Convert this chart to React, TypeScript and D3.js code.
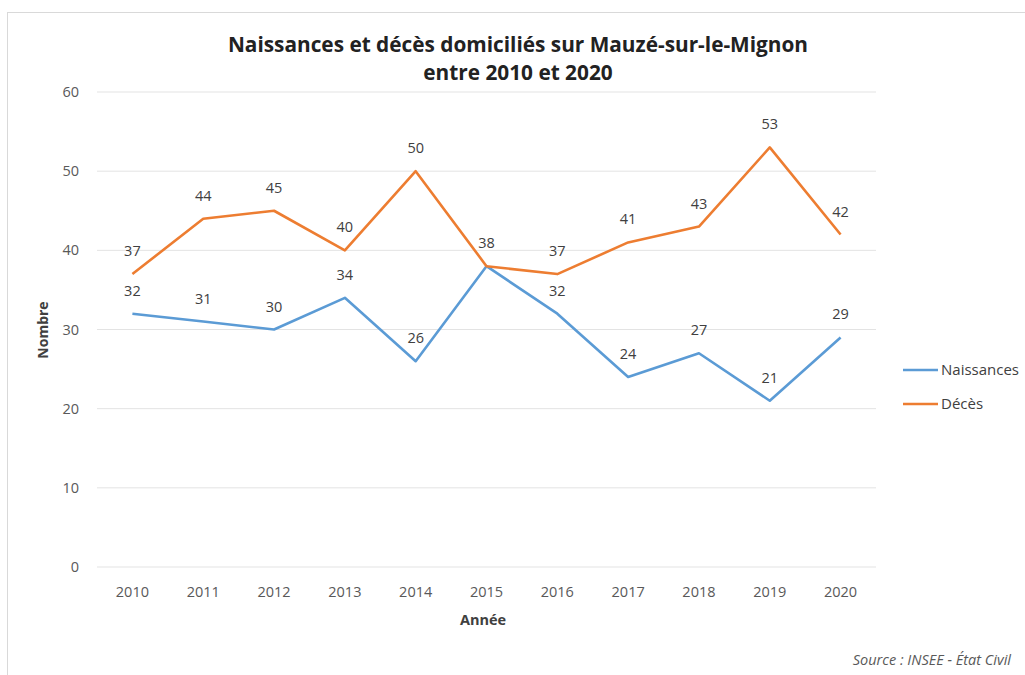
import React from "react";
import * as d3 from "d3";

const years = ["2010","2011","2012","2013","2014","2015","2016","2017","2018","2019","2020"];
const naissances = [32, 31, 30, 34, 26, 38, 32, 24, 27, 21, 29];
const deces = [37, 44, 45, 40, 50, 38, 37, 41, 43, 53, 42];
const yTicks = [0, 10, 20, 30, 40, 50, 60];
const seriesNames = ["Naissances", "Décès"];
const colors = ["#5B9BD5", "#ED7D31"];

const W = 1025, H = 675;
const font = "'Open Sans', 'DejaVu Sans', sans-serif";

export default function App() {
  const x = d3.scaleBand().domain(years).range([97, 876]);
  const y = d3.scaleLinear().domain([0, 60]).range([567, 92]);
  const cx = (yr: string) => (x(yr) as number) + x.bandwidth() / 2;
  const line = d3.line<number>().x((_, i) => cx(years[i])).y((d) => y(d));
  const series = [naissances, deces];
  return (
    <svg width={W} height={H} style={{ position: "absolute", left: 0, top: 0, background: "#fff" }} fontFamily={font}>
      <rect x={7.5} y={12.5} width={1030} height={680} fill="#fff" stroke="#d9d9d9" />
      <text x={518} y={52} textAnchor="middle" fontSize={20.8} fontWeight="bold" fill="#222">Naissances et décès domiciliés sur Mauzé-sur-le-Mignon</text>
      <text x={518} y={80} textAnchor="middle" fontSize={20.8} fontWeight="bold" fill="#222">entre 2010 et 2020</text>
      {yTicks.map((t) => (
        <g key={t}>
          <line x1={97} x2={876} y1={y(t)} y2={y(t)} stroke="#e3e3e3" strokeWidth={1} />
          <text x={79} y={y(t)} dy="0.35em" textAnchor="end" fontSize={14.5} fill="#595959">{t}</text>
        </g>
      ))}
      {years.map((yr) => (
        <text key={yr} x={cx(yr)} y={597} textAnchor="middle" fontSize={14.5} fill="#595959">{yr}</text>
      ))}
      <text x={483} y={625} textAnchor="middle" fontSize={14.5} fontWeight="bold" fill="#404040">Année</text>
      <text transform="translate(48,330) rotate(-90)" textAnchor="middle" fontSize={14} fontWeight="bold" fill="#404040">Nombre</text>
      {series.map((s, si) => (
        <path key={si} d={line(s) as string} fill="none" stroke={colors[si]} strokeWidth={2.6} strokeLinejoin="round" />
      ))}
      {series.map((s, si) =>
        s.map((v, i) =>
          si === 0 && v === deces[i] ? null : (
            <text key={si + "-" + i} x={cx(years[i])} y={y(v) - 18} textAnchor="middle" fontSize={14.5} fill="#404040">{v}</text>
          )
        )
      )}
      {seriesNames.map((n, i) => (
        <g key={n}>
          <line x1={903} x2={938} y1={370 + i * 34} y2={370 + i * 34} stroke={colors[i]} strokeWidth={2.6} />
          <text x={941} y={370 + i * 34} dy="0.35em" fontSize={15} fill="#404040">{n}</text>
        </g>
      ))}
      <text x={1011} y={665} textAnchor="end" fontSize={14.5} fontStyle="italic" fill="#595959">Source : INSEE - État Civil</text>
    </svg>
  );
}
